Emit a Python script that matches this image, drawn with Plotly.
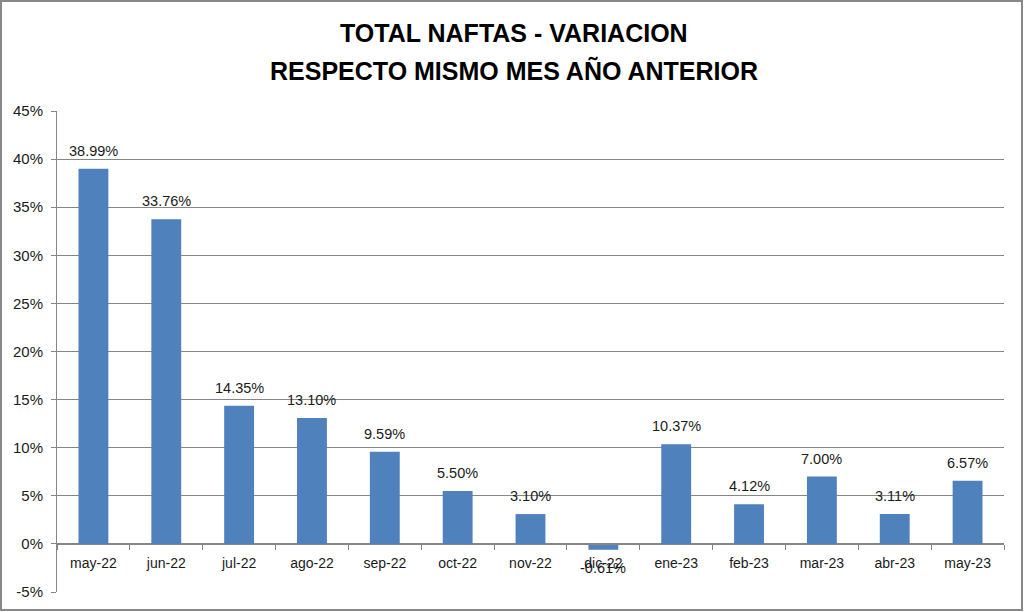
import plotly.graph_objects as go

categories = ["may-22", "jun-22", "jul-22", "ago-22", "sep-22", "oct-22", "nov-22",
              "dic-22", "ene-23", "feb-23", "mar-23", "abr-23", "may-23"]
values = [38.99, 33.76, 14.35, 13.10, 9.59, 5.50, 3.10, -0.61, 10.37, 4.12, 7.00, 3.11, 6.57]
ytick_vals = [-5, 0, 5, 10, 15, 20, 25, 30, 35, 40, 45]
ytick_text = ["-5%", "0%", "5%", "10%", "15%", "20%", "25%", "30%", "35%", "40%", "45%"]
title_lines = ["TOTAL NAFTAS - VARIACION", "RESPECTO MISMO MES AÑO ANTERIOR"]

labels = [f"{v:.2f}%" for v in values]

FONT = "Liberation Sans"
W, H = 1024, 612
L, R, T, B = 57, 20, 111, 20
pw, ph = W - L - R, H - T - B

def px_x(x):
    return (x - L) / pw

def px_y(y):
    return (H - B - y) / ph

fig = go.Figure()
fig.add_trace(go.Bar(
    x=categories, y=values,
    marker=dict(color="#4F81BD", line=dict(width=0)),
    hoverinfo="skip",
))

for c, v, t in zip(categories, values, labels):
    fig.add_annotation(x=c, y=v, xref="x", yref="y", text=t, showarrow=False,
                       yanchor="bottom" if v >= 0 else "top",
                       yshift=8 if v >= 0 else -8,
                       font=dict(family=FONT, size=14.5, color="#1a1a1a"))

ymin, ymax = -5, 45
fig.update_layout(
    width=W, height=H,
    margin=dict(l=L, r=R, t=T, b=B),
    paper_bgcolor="white", plot_bgcolor="white",
    bargap=0.59,
    showlegend=False,
    font=dict(family=FONT, size=14, color="#1a1a1a"),
    xaxis=dict(
        type="category",
        anchor="free", position=(0 - ymin) / (ymax - ymin),
        showline=True, linecolor="#868686", linewidth=1,
        ticks="outside", tickson="boundaries", ticklen=5, tickcolor="#868686",
        ticklabelstandoff=6,
        showgrid=False, zeroline=False,
        tickfont=dict(family=FONT, size=14, color="#1a1a1a"),
    ),
    yaxis=dict(
        range=[ymin, ymax],
        tickvals=ytick_vals, ticktext=ytick_text,
        showgrid=True, gridcolor="#868686", gridwidth=1,
        zeroline=False,
        showline=True, linecolor="#868686", linewidth=1,
        ticks="outside", ticklen=5, tickcolor="#868686",
        ticklabelstandoff=5,
        tickfont=dict(family=FONT, size=15, color="#1a1a1a"),
    ),
)

for txt, ypix in zip(title_lines, [33, 70]):
    fig.add_annotation(text="<b>" + txt + "</b>", xref="paper", yref="paper",
                       x=px_x(514), y=px_y(ypix), showarrow=False,
                       font=dict(family=FONT, size=25, color="black"),
                       xanchor="center", yanchor="middle")

fig.add_shape(type="rect", xref="paper", yref="paper",
              x0=px_x(1), x1=px_x(1022), y0=px_y(610), y1=px_y(1),
              line=dict(color="#888888", width=2), fillcolor="rgba(0,0,0,0)")

fig.write_html("out.html", config={"displayModeBar": False},
               post_script="document.body.style.margin='0';document.body.style.overflow='hidden';")
